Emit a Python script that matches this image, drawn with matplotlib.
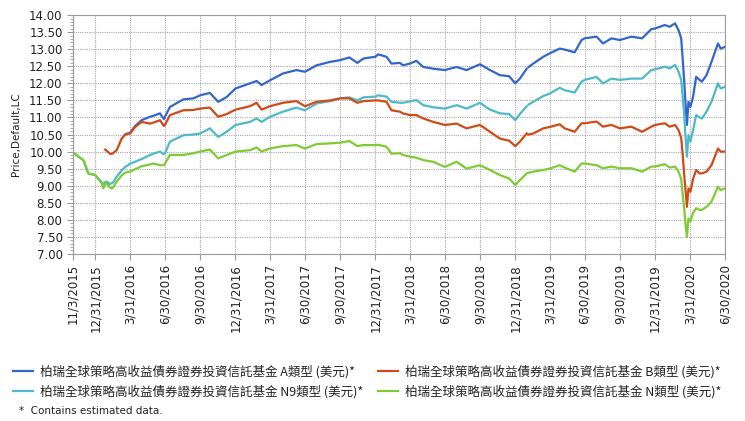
import numpy as np
import pandas as pd
import matplotlib
matplotlib.use("Agg")
import matplotlib.pyplot as plt
from matplotlib.ticker import MultipleLocator

plt.rcParams['font.family'] = ['DejaVu Sans']

nan = np.nan

# -------------------------------
# Values
# -------------------------------
dates = [
    "2015-11-03", "2015-11-30", "2015-12-13", "2015-12-31", "2016-01-17",
    "2016-01-21", "2016-01-26", "2016-01-30", "2016-02-07", "2016-02-12",
    "2016-02-16", "2016-02-25", "2016-03-09", "2016-03-18", "2016-03-26",
    "2016-03-31", "2016-04-13", "2016-04-30", "2016-05-22", "2016-05-31",
    "2016-06-17", "2016-06-27", "2016-06-30", "2016-07-13", "2016-08-17",
    "2016-09-12", "2016-09-30", "2016-10-25", "2016-11-16", "2016-12-08",
    "2016-12-31", "2017-02-07", "2017-02-24", "2017-03-09", "2017-03-31",
    "2017-05-04", "2017-06-08", "2017-06-30", "2017-07-31", "2017-09-04",
    "2017-09-30", "2017-10-24", "2017-11-14", "2017-11-30", "2017-12-31",
    "2018-01-07", "2018-01-29", "2018-02-11", "2018-03-05", "2018-03-13",
    "2018-03-31", "2018-04-17", "2018-05-05", "2018-05-31", "2018-06-30",
    "2018-07-31", "2018-08-26", "2018-09-30", "2018-10-26", "2018-11-21",
    "2018-12-15", "2018-12-31", "2019-01-12", "2019-01-30", "2019-02-01",
    "2019-02-04", "2019-02-16", "2019-03-14", "2019-03-31", "2019-04-26",
    "2019-05-09", "2019-06-04", "2019-06-22", "2019-06-30", "2019-07-31",
    "2019-08-17", "2019-09-08", "2019-09-30", "2019-10-30", "2019-11-27",
    "2019-12-21", "2019-12-31", "2020-01-25", "2020-02-07", "2020-02-21",
    "2020-03-01", "2020-03-08", "2020-03-12", "2020-03-16", "2020-03-19",
    "2020-03-23", "2020-03-27", "2020-04-01", "2020-04-08", "2020-04-16",
    "2020-04-25", "2020-05-01", "2020-05-13", "2020-05-26", "2020-06-12",
    "2020-06-19", "2020-06-30",
]

class_a = [
    nan, nan, nan, nan, nan, nan, nan, nan, nan, nan,
    nan, nan, nan, 10.50, 10.53, 10.55, 10.75, 10.92, 11.02, 11.05,
    11.12, 10.95, 11.02, 11.31, 11.53, 11.56, 11.65, 11.72, 11.46, 11.60,
    11.85, 12.00, 12.07, 11.95, 12.09, 12.29, 12.39, 12.34, 12.53, 12.63,
    12.68, 12.76, 12.60, 12.73, 12.78, 12.85, 12.78, 12.58, 12.60, 12.53,
    12.58, 12.66, 12.48, 12.43, 12.39, 12.48, 12.39, 12.56, 12.39, 12.24,
    12.21, 12.00, 12.14, 12.43, nan, 12.48, 12.58, 12.78, 12.88, 13.02,
    12.99, 12.91, 13.27, 13.32, 13.37, 13.17, 13.32, 13.27, 13.37, 13.32,
    13.59, 13.61, 13.71, 13.66, 13.76, 13.56, 13.32, 12.70, 12.05, 11.46,
    10.78, 11.46, 11.31, 11.61, 12.19, 12.10, 12.05, 12.24, 12.63, 13.17,
    13.02, 13.07,
]

class_b = [
    nan, nan, nan, nan, nan, nan, 10.06, 10.02, 9.94, 9.93,
    9.96, 10.04, 10.38, 10.50, 10.53, 10.53, 10.72, 10.87, 10.82, 10.85,
    10.92, 10.75, 10.78, 11.07, 11.21, 11.22, 11.26, 11.29, 11.02, 11.10,
    11.23, 11.33, 11.43, 11.23, 11.33, 11.43, 11.48, 11.33, 11.46, 11.50,
    11.56, 11.56, 11.43, 11.48, 11.50, 11.50, 11.46, 11.21, 11.17, 11.12,
    11.07, 11.07, 10.97, 10.87, 10.78, 10.82, 10.68, 10.78, 10.58, 10.38,
    10.32, 10.16, 10.29, 10.53, nan, 10.50, 10.53, 10.68, 10.72, 10.80,
    10.68, 10.58, 10.83, 10.83, 10.88, 10.73, 10.78, 10.68, 10.73, 10.58,
    10.73, 10.78, 10.83, 10.73, 10.78, 10.63, 10.40, 9.90, 9.30, 8.90,
    8.38, 8.92, 8.82, 9.20, 9.46, 9.36, 9.36, 9.41, 9.60, 10.09,
    10.00, 10.00,
]

class_n9 = [
    9.97, 9.75, 9.36, 9.31, 9.10, 9.05, 9.10, 9.12, 9.05, 9.07,
    9.10, 9.26, 9.45, 9.55, 9.60, 9.65, 9.70, 9.78, 9.90, 9.94,
    10.00, 9.92, 9.95, 10.29, 10.48, 10.50, 10.53, 10.68, 10.43, 10.58,
    10.78, 10.87, 10.97, 10.87, 11.02, 11.17, 11.29, 11.21, 11.41, 11.48,
    11.56, 11.59, 11.50, 11.59, 11.61, 11.65, 11.61, 11.46, 11.43, 11.43,
    11.47, 11.51, 11.36, 11.30, 11.26, 11.36, 11.26, 11.43, 11.23, 11.12,
    11.10, 10.92, 11.10, 11.33, nan, 11.38, 11.46, 11.63, 11.70, 11.87,
    11.80, 11.73, 12.05, 12.10, 12.19, 12.00, 12.14, 12.10, 12.14, 12.14,
    12.39, 12.41, 12.49, 12.44, 12.54, 12.34, 12.10, 11.60, 11.07, 10.48,
    9.85, 10.48, 10.29, 10.63, 11.07, 11.00, 10.97, 11.17, 11.46, 12.00,
    11.85, 11.90,
]

class_n = [
    9.97, 9.75, 9.36, 9.31, 9.07, 8.92, 9.05, 9.07, 8.95, 8.92,
    8.95, 9.12, 9.30, 9.38, 9.40, 9.41, 9.48, 9.57, 9.62, 9.65,
    9.60, 9.60, 9.65, 9.90, 9.90, 9.95, 10.00, 10.06, 9.80, 9.90,
    10.00, 10.04, 10.12, 10.00, 10.09, 10.16, 10.19, 10.09, 10.22, 10.24,
    10.26, 10.31, 10.16, 10.19, 10.19, 10.20, 10.14, 9.94, 9.95, 9.90,
    9.85, 9.82, 9.75, 9.70, 9.55, 9.70, 9.50, 9.60, 9.46, 9.31,
    9.21, 9.02, 9.16, 9.36, nan, 9.38, 9.41, 9.46, 9.50, 9.60,
    9.53, 9.41, 9.65, 9.65, 9.60, 9.51, 9.56, 9.51, 9.51, 9.41,
    9.56, 9.56, 9.63, 9.53, 9.56, 9.41, 9.20, 8.73, 8.30, 7.90,
    7.50, 8.04, 7.95, 8.20, 8.34, 8.29, 8.29, 8.38, 8.53, 8.97,
    8.87, 8.92,
]

labels = [
    "柏瑞全球策略高收益債券證券投資信託基金 A類型 (美元)*",
    "柏瑞全球策略高收益債券證券投資信託基金 B類型 (美元)*",
    "柏瑞全球策略高收益債券證券投資信託基金 N9類型 (美元)*",
    "柏瑞全球策略高收益債券證券投資信託基金 N類型 (美元)*",
]
colors = ["#3366cc", "#d04a17", "#4db9c9", "#7ecb34"]

tick_dates = [
    "2015-11-03", "2015-12-31", "2016-03-31", "2016-06-30", "2016-09-30",
    "2016-12-31", "2017-03-31", "2017-06-30", "2017-09-30", "2017-12-31",
    "2018-03-31", "2018-06-30", "2018-09-30", "2018-12-31", "2019-03-31",
    "2019-06-30", "2019-09-30", "2019-12-31", "2020-03-31", "2020-06-30",
]

x = pd.to_datetime(dates)
ticks = pd.to_datetime(tick_dates)
tick_labels = [f"{d.month}/{d.day}/{d.year}" for d in ticks]

# -------------------------------
# Plot
# -------------------------------
fig = plt.figure(figsize=(7.45, 4.21), dpi=100)
ax = fig.add_axes([0.098, 0.397, 0.875, 0.567])

series = [class_a, class_b, class_n9, class_n]
lines = {}
for i in [0, 2, 1, 3]:  # red sits above cyan in the reference
    ln, = ax.plot(x, series[i], color=colors[i], lw=1.6, label=labels[i])
    lines[i] = ln

ax.set_xlim(ticks[0], ticks[-1])
ax.set_ylim(7, 14)
ax.yaxis.set_major_locator(MultipleLocator(0.5))
ax.yaxis.set_minor_locator(MultipleLocator(0.1))
ax.yaxis.set_major_formatter(plt.FuncFormatter(lambda v, p: f"{v:.2f}"))
ax.set_xticks(ticks)
ax.set_xticklabels(tick_labels, rotation=90)

ax.grid(True, which="major", color="#a8a8a8", linestyle=(0, (1, 1)), lw=0.8)
for s in ax.spines.values():
    s.set_color("#9a9a9a")
ax.tick_params(axis="both", which="major", labelsize=8.5, color="#9a9a9a",
               length=4, labelcolor="#222222")
ax.tick_params(axis="y", which="minor", length=2, color="#9a9a9a")
ax.set_ylabel("Price,Default,LC", fontsize=7.5, color="#222222", labelpad=6)

# legend: column-major filling gives A,B in row 1 and N9,N in row 2
handles = [lines[0], lines[2], lines[1], lines[3]]
leg = fig.legend(handles, [h.get_label() for h in handles], ncol=2,
                 loc="upper left", bbox_to_anchor=(0.011, 0.145),
                 frameon=False, handlelength=1.6, handletextpad=0.55,
                 columnspacing=1.2, labelspacing=0.5, borderaxespad=0,
                 prop={"family": ["Noto Sans CJK TC", "DejaVu Sans"], "size": 9})
for t in leg.get_texts():
    t.set_color("#222222")

fig.text(0.026, 0.024, "*  Contains estimated data.", fontsize=7.5,
         color="#222222", va="center")

fig.savefig("out.png", dpi=100)
